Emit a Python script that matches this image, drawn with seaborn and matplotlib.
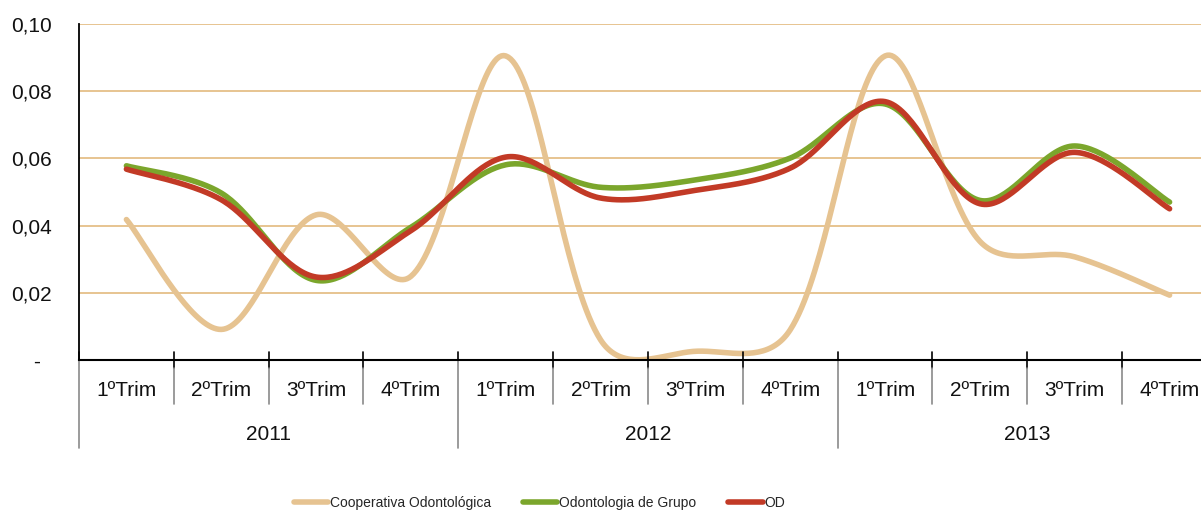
import numpy as np
import pandas as pd
import matplotlib
matplotlib.use("Agg")
import matplotlib.pyplot as plt
import matplotlib.transforms as mtransforms
import seaborn as sns

# Data
quarters = ["1ºTrim", "2ºTrim", "3ºTrim", "4ºTrim"] * 3
years = ["2011", "2012", "2013"]
cooperativa = [0.0418, 0.0091, 0.0432, 0.0249,
               0.0905, 0.0060, 0.0026, 0.0090,
               0.0905, 0.0353, 0.0307, 0.0193]
odonto_grupo = [0.0578, 0.0497, 0.0237, 0.0395,
                0.0581, 0.0514, 0.0536, 0.0601,
                0.0762, 0.0475, 0.0637, 0.0470]
od = [0.0568, 0.0477, 0.0247, 0.0385,
      0.0604, 0.0482, 0.0505, 0.0571,
      0.0769, 0.0465, 0.0618, 0.0450]
y_ticks = [0.0, 0.02, 0.04, 0.06, 0.08, 0.10]
y_labels = ["-  ", "0,02", "0,04", "0,06", "0,08", "0,10"]

series = {
    "Cooperativa Odontológica": (cooperativa, "#E6C391"),
    "Odontologia de Grupo": (odonto_grupo, "#7BA62C"),
    "OD": (od, "#C23A26"),
}

# pixel size of one category / of the full y range, used only for the smoothing
X_UNIT, Y_UNIT = 94.8, 336 / 0.10


# Excel-like smoothed line: cubic Bezier, handles weighted by sqrt of chord lengths
def smooth(values, n=40, a=0.5):
    y = np.asarray(values, dtype=float) * Y_UNIT
    x = np.arange(len(y), dtype=float) * X_UNIT
    P = np.column_stack([x, y])
    m = len(P)
    L = np.hypot(*np.diff(P, axis=0).T) ** a
    out = []
    for i in range(m - 1):
        p1, p2 = P[i], P[i + 1]
        if i == 0:
            c1 = p1 + (p2 - p1) / 6
        else:
            c1 = p1 + (p2 - P[i - 1]) / 3 * L[i] / (L[i - 1] + L[i])
        if i == m - 2:
            c2 = p2 - (p2 - p1) / 6
        else:
            c2 = p2 - (P[i + 2] - p1) / 3 * L[i] / (L[i] + L[i + 1])
        t = np.linspace(0, 1, n, endpoint=(i == m - 2))[:, None]
        out.append((1 - t) ** 3 * p1 + 3 * (1 - t) ** 2 * t * c1
                   + 3 * (1 - t) * t ** 2 * c2 + t ** 3 * p2)
    out = np.vstack(out)
    return out[:, 0] / X_UNIT, out[:, 1] / Y_UNIT


sns.set_style("white")
plt.rcParams["font.family"] = ["Liberation Sans", "DejaVu Sans"]

fig = plt.figure(figsize=(12.01, 5.12), dpi=100)
ax = fig.add_axes([79 / 1201, 152 / 512, 1138 / 1201, 336 / 512])

for name, (vals, color) in series.items():
    xs, ys = smooth(vals)
    sns.lineplot(x=xs, y=ys, ax=ax, color=color, lw=4, sort=False,
                 label=name, solid_capstyle="round")

ax.set_xlim(-0.5, len(quarters) - 0.5)
ax.set_ylim(0, 0.10)

# grid lines
for v in y_ticks[1:]:
    ax.axhline(v, color="#E5BF88", lw=1.3, zorder=0)

ax.set_yticks(y_ticks)
ax.set_yticklabels(y_labels, fontsize=15, color="#111111")
ax.tick_params(axis="y", direction="inout", length=11, width=1.2,
               color="#555555", pad=14)

ax.set_xticks(range(len(quarters)))
ax.set_xticklabels(quarters, fontsize=15, color="#111111")
ax.tick_params(axis="x", length=0, pad=15)

for s in ["top", "right"]:
    ax.spines[s].set_visible(False)
ax.spines["left"].set_color("black")
ax.spines["left"].set_linewidth(1.3)
ax.spines["bottom"].set_color("black")
ax.spines["bottom"].set_linewidth(1.5)

# multi-level category axis separators
trans = mtransforms.blended_transform_factory(ax.transData, ax.transAxes)
for i in range(len(quarters) + 1):
    b = i - 0.5
    if i % 4 == 0:
        ax.plot([b, b], [0.024, 0.0], transform=trans, color="black", lw=1.2, clip_on=False)
        ax.plot([b, b], [0.0, -0.262], transform=trans, color="#8A8A8A", lw=1.2, clip_on=False)
    else:
        ax.plot([b, b], [0.024, -0.024], transform=trans, color="black", lw=1.2, clip_on=False)
        ax.plot([b, b], [-0.024, -0.131], transform=trans, color="#8A8A8A", lw=1.2, clip_on=False)

for k, yr in enumerate(years):
    ax.text(4 * k + 1.5, -0.223, yr, transform=trans, ha="center", va="center",
            fontsize=15, color="#111111")

handles, labels = ax.get_legend_handles_labels()
ax.get_legend().remove()
for h in handles:
    h.set_linewidth(4)
fig.legend(handles, labels, loc="center left", bbox_to_anchor=(281 / 1201, 0.018),
           ncol=3, frameon=False, fontsize=10, handlelength=2.5,
           handletextpad=0.15, columnspacing=2.25)

fig.savefig("out.png", dpi=100)
